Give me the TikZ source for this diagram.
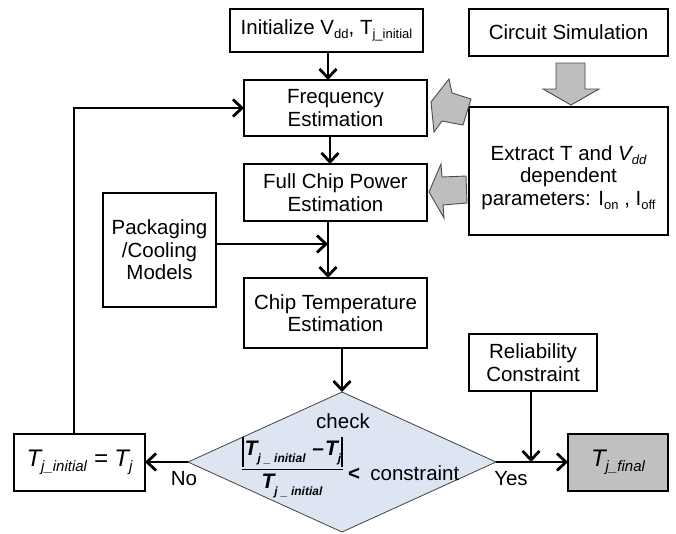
\documentclass[tikz,border=0pt]{standalone}
\usepackage{fontspec}
\setmainfont{Liberation Sans}
\usetikzlibrary{arrows.meta,shapes.geometric}
\newcommand\lo[1]{\raisebox{-0.2em}{\fontsize{13}{13}\selectfont #1}}
\newcommand\lob[1]{\raisebox{-0.2em}{\fontsize{15}{15}\selectfont #1}}
\newcommand\los[1]{\raisebox{-0.35em}{\fontsize{12}{12}\selectfont #1}}
\definecolor{dfill}{RGB}{222,229,242}
\definecolor{gfill}{RGB}{192,192,192}
\definecolor{afill}{RGB}{190,190,190}
\begin{document}
\begin{tikzpicture}[x=1pt,y=-1pt,
  box/.style={draw,line width=1.8pt,inner sep=0pt,outer sep=0pt,align=center,
    font=\fontsize{20.5}{22.5}\selectfont},
  conn/.style={line width=2.8pt,-{Straight Barb[length=9pt,width=17pt]}},
  blk/.style={fill=afill,draw=black!70,line width=0.9pt,line join=miter},
  lbl/.style={inner sep=0pt,font=\fontsize{20.5}{22}\selectfont}]
\useasboundingbox (0,0) rectangle (676,533);

% boxes
\node[box,minimum width=193pt,minimum height=43pt] (init) at (326.5,30.5)
  {Initialize V\lo{dd}, T\lo{j\_initial}};
\node[box,minimum width=199pt,minimum height=47pt] (circ) at (568.5,32.5)
  {Circuit Simulation};
\node[box,minimum width=183pt,minimum height=56pt] (freq) at (335.5,108)
  {Frequency\\Estimation};
\node[box,minimum width=199pt,minimum height=128pt] (extr) at (568.5,171) {};
\node[align=center,inner sep=0pt,font=\fontsize{20.5}{22.5}\selectfont] (extrt) at (568.5,177.5)
  {Extract T and \textit{V\lo{dd}}\\dependent\\parameters: I\lo{on} , I\lo{off}};
\node[box,minimum width=183pt,minimum height=57pt] (power) at (335.5,192.5)
  {Full Chip Power\\Estimation};
\node[box,minimum width=113pt,minimum height=114pt] (pack) at (159.5,250)
  {Packaging\\/Cooling\\Models};
\node[box,minimum width=183pt,minimum height=70pt] (temp) at (335.5,313)
  {Chip Temperature\\Estimation};
\node[box,minimum width=128pt,minimum height=57pt] (rel) at (533,362.5)
  {Reliability\\Constraint};
\node[box,minimum width=131pt,minimum height=57pt,font=\fontsize{24}{26}\selectfont\itshape]
  (tinit) at (79.5,462.5) {T\lob{j\_initial} = T\lob{j}};
\node[box,fill=gfill,minimum width=100pt,minimum height=57pt,font=\fontsize{24}{26}\selectfont\itshape]
  (tfin) at (618,462.5) {T\lob{j\_final}};

% decision
\node[diamond,draw=black!75,fill=dfill,line width=0.8pt,minimum width=308pt,
  minimum height=140pt,inner sep=0pt,outer sep=0pt] (chk) at (342,462) {};
\node[lbl] (check) at (343,421) {check};
\node[inner sep=0pt,font=\fontsize{21}{21}\selectfont\bfseries\itshape] (num) at (293,453)
  {T\los{j \_ initial} \kern1pt–\kern1pt T\los{j}};
\node[inner sep=0pt,font=\fontsize{21}{21}\selectfont\bfseries\itshape] (den) at (292,486)
  {T\los{j \_ initial}};
\draw[line width=1.4pt] (243,437) -- (243,467);
\draw[line width=1.4pt] (342,437) -- (342,467);
\draw[line width=1pt] (242,469) -- (343,469);
\node[lbl,anchor=west] (cons) at (348,473) {\textbf{<}\enspace constraint};

% block arrows
\draw[blk] (556,63) -- (585,63) -- (585,89) -- (599,89) -- (571,105) -- (543,89) -- (556,89) -- cycle;
\draw[blk] (431,102) -- (449,79) -- (452,93) -- (471,99) -- (463,125) -- (442,121) -- (434,132) -- cycle;
\draw[blk] (429,192) -- (441,164) -- (442,177) -- (466,176) -- (467,203) -- (443,205) -- (444,218) -- cycle;

% connectors
\coordinate (pk) at ([yshift=6pt]pack.east);
\coordinate (pw) at ([xshift=-7.5pt]power.south);
\draw[conn] ([xshift=1.5pt]init.south) -- ([xshift=1.5pt]init.south |- freq.north);
\draw[conn] ([xshift=-5.5pt]freq.south) -- ([xshift=-5.5pt]freq.south |- power.north);
\draw[conn] (pw) -- (pw |- temp.north);
\draw[conn] (pk) -- (pk -| pw);
\draw[conn] (chk.north |- temp.south) -- (chk.north);
\draw[conn] (chk.west) -- (chk.west -| tinit.east);
\draw[conn] ([xshift=-5.5pt]tinit.north) |- (freq.west);
\draw[conn] (chk.east) -- (chk.east -| tfin.west);
\draw[conn] ([xshift=-2pt]rel.south) -- ([xshift=-2pt]rel.south |- chk.east);

\node[lbl] (no) at (184,479) {No};
\node[lbl] (yes) at (511,479) {Yes};
\end{tikzpicture}
\end{document}
